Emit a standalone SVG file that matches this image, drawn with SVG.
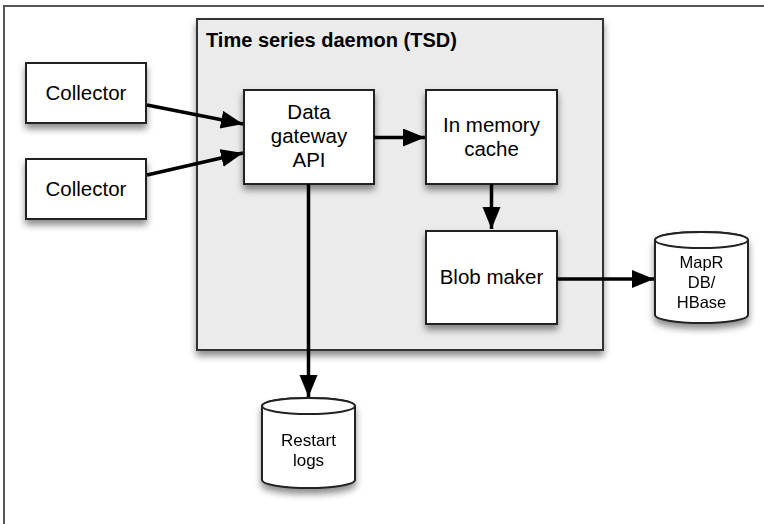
<svg xmlns="http://www.w3.org/2000/svg" width="764" height="524" viewBox="0 0 764 524">
<style>
  .frame { fill: #ffffff; stroke: #555555; stroke-width: 2; }
  .group { fill: #ebebeb; stroke: #333333; stroke-width: 2; filter: url(#shadow); }
  .box { fill: #ffffff; stroke: #222222; stroke-width: 2; filter: url(#shadow); }
  .cyl { fill: #ffffff; stroke: #222222; stroke-width: 2; }
  .lbl { font-family: "Liberation Sans", Arial, sans-serif; font-size: 20.5px; fill: #000000; text-anchor: middle; }
  .small { font-size: 16.5px; }
  .title { font-family: "Liberation Sans", Arial, sans-serif; font-size: 20px; font-weight: bold; fill: #000000; }
  .conn { fill: none; stroke: #000000; stroke-width: 3.5; marker-end: url(#arrow); }
</style>
<defs>
  <filter id="shadow" x="-20%" y="-20%" width="140%" height="150%">
    <feDropShadow dx="0" dy="5" stdDeviation="3.5" flood-color="#000000" flood-opacity="0.45"/>
  </filter>
  <marker id="arrow" markerUnits="userSpaceOnUse" markerWidth="24" markerHeight="20" refX="22" refY="9" orient="auto">
    <path d="M0,0 L22,9 L0,18 Z" fill="#000000"/>
  </marker>
</defs>

<rect class="frame" x="4" y="6" width="780" height="540"/>

<g id="tsd">
  <rect class="group" x="197" y="19" width="406" height="331"/>
  <text class="title" x="206" y="47">Time series daemon (TSD)</text>
</g>

<g id="collector1">
  <rect class="box" x="26" y="63" width="120" height="60"/>
  <text class="lbl" x="86" y="100">Collector</text>
</g>
<g id="collector2">
  <rect class="box" x="26" y="159" width="120" height="60"/>
  <text class="lbl" x="86" y="196">Collector</text>
</g>

<g id="gateway">
  <rect class="box" x="244" y="90" width="130" height="94"/>
  <text class="lbl" x="309" y="119">Data</text>
  <text class="lbl" x="309" y="143">gateway</text>
  <text class="lbl" x="309" y="167">API</text>
</g>

<g id="cache">
  <rect class="box" x="426" y="90" width="131" height="94"/>
  <text class="lbl" x="491.5" y="132">In memory</text>
  <text class="lbl" x="491.5" y="156">cache</text>
</g>

<g id="blob">
  <rect class="box" x="426" y="231" width="131" height="93"/>
  <text class="lbl" x="491.5" y="284">Blob maker</text>
</g>

<g id="mapr" filter="url(#shadow)">
  <path class="cyl" d="M655,240 L655,315 A46.5,8 0 0 0 748,315 L748,240 A46.5,8 0 0 0 655,240 Z"/>
  <ellipse class="cyl" cx="701.5" cy="240" rx="46.5" ry="8"/>
  <text class="lbl small" x="701.5" y="268">MapR</text>
  <text class="lbl small" x="701.5" y="288">DB/</text>
  <text class="lbl small" x="701.5" y="308">HBase</text>
</g>

<g id="restart" filter="url(#shadow)">
  <path class="cyl" d="M262,406 L262,480 A46.5,8 0 0 0 355,480 L355,406 A46.5,8 0 0 0 262,406 Z"/>
  <ellipse class="cyl" cx="308.5" cy="406" rx="46.5" ry="8"/>
  <text class="lbl small" x="308.5" y="446" style="font-size:17px">Restart</text>
  <text class="lbl small" x="308.5" y="466" style="font-size:17px">logs</text>
</g>

<g id="connectors">
  <path class="conn" d="M147,105 L243,124"/>
  <path class="conn" d="M147,175 L243,153"/>
  <path class="conn" d="M374,137.5 L425,137.5"/>
  <path class="conn" d="M491.5,184 L491.5,229"/>
  <path class="conn" d="M557,279 L654,279"/>
  <path class="conn" d="M308.5,184 L308.5,397"/>
</g>
</svg>
